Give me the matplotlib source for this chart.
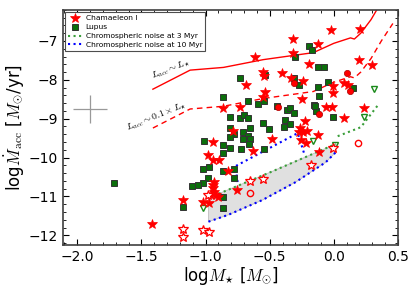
import numpy as np
import matplotlib
matplotlib.use("Agg")
import matplotlib.pyplot as plt
from matplotlib.ticker import MultipleLocator

plt.rcParams['mathtext.fontset'] = 'cm'
plt.rcParams['font.family'] = ['DejaVu Sans']

# ---- Data (log M*, log Macc) ----
cha_star_x = [-0.023, 0.203, -0.320, -0.125, -0.320, -0.617, 0.195, -0.195, 0.297, -0.555,
              -0.406, -0.547, -0.336, -0.688, -0.242, 0.078, 0.109, -0.008, -0.539, -0.555,
              -0.008, -0.250, -0.867, -0.734, -0.062, -0.016, 0.234, 0.078, -0.227, -0.266,
              -0.242, -0.211, -0.273, -0.125, -0.258, -0.219, -0.484, -0.938, -0.789, -0.633,
              -0.117, -0.977, -0.938, -0.898, -0.828, -0.930, -0.938, -0.938, -0.930, -0.922,
              -0.906, -0.961, -0.758, -1.016, -0.969, -1.172, -1.414]
cha_star_y = [-6.71, -6.68, -6.96, -7.09, -7.32, -7.42, -7.50, -7.60, -7.63, -7.81,
              -7.83, -7.91, -7.94, -8.12, -8.04, -8.09, -8.14, -8.17, -8.32, -8.45,
              -8.35, -8.50, -8.73, -8.71, -8.71, -8.71, -8.73, -8.99, -9.06, -9.24,
              -9.35, -9.32, -9.35, -9.42, -9.55, -9.63, -9.53, -9.60, -9.32, -9.83,
              -9.86, -9.94, -10.06, -10.06, -10.35, -10.63, -10.71, -10.78, -10.88, -10.96,
              -11.01, -10.96, -10.83, -11.14, -11.17, -11.09, -11.71]

cha_openstar_x = [-0.656, -0.555, -0.180, -0.008, -0.977, -1.172, -1.172, -1.016, -0.969]
cha_openstar_y = [-10.60, -10.55, -10.19, -9.76, -10.96, -11.83, -12.04, -11.86, -11.91]

cha_circ_x = [0.102, -0.312, 0.125, -0.438, -0.117]
cha_circ_y = [-7.83, -8.09, -8.29, -8.71, -8.88]

cha_opencirc_x = [-0.656, 0.188]
cha_opencirc_y = [-10.91, -9.62]

lup_x = [-0.195, -0.172, -0.305, -0.125, -0.078, -0.734, -0.539, -0.312, -0.273, -0.047,
         0.148, -0.125, -0.867, -0.672, -0.547, -0.594, -0.117, -0.156, -0.141, -0.367,
         -0.344, -0.812, -0.734, -0.703, -0.672, -0.008, -0.383, -0.344, -0.391, -0.555,
         -0.812, -0.656, -0.508, -0.445, -0.312, -0.148, -0.781, -0.812, -0.711, -0.672,
         -0.656, -0.711, -0.664, -1.008, -0.867, -0.812, -0.727, -0.547, -0.867, -1.016,
         -0.969, -0.867, -0.781, -0.781, -0.977, -1.016, -1.062, -1.109, -0.867, -0.867,
         -1.172, -1.711]
lup_y = [-7.14, -7.24, -7.42, -7.68, -7.68, -7.94, -7.88, -7.94, -8.14, -8.06,
         -8.22, -8.19, -8.45, -8.55, -8.55, -8.63, -8.42, -8.65, -8.81, -8.78,
         -8.73, -8.96, -8.99, -8.91, -8.99, -8.96, -9.04, -9.14, -9.22, -9.12,
         -9.24, -9.24, -9.27, -8.68, -8.86, -8.68, -9.40, -9.47, -9.35, -9.45,
         -9.53, -9.53, -9.65, -9.58, -9.68, -9.76, -9.78, -9.78, -9.88, -10.29,
         -10.24, -10.35, -10.29, -10.53, -10.53, -10.65, -10.71, -10.74, -11.01, -11.29,
         -11.27, -10.65]

lup_tri_x = [0.312, 0.234, -0.164, 0.008, -1.016]
lup_tri_y = [-8.24, -8.96, -9.58, -9.68, -11.29]

# Lacc ~ L* track
track_x = [-1.41, -1.12, -0.86, -0.55, -0.16, 0.0, 0.13, 0.16, 0.21, 0.29, 0.37, 0.46]
track_y = [-8.24, -7.75, -7.68, -7.48, -7.30, -7.06, -6.92, -6.95, -6.80, -6.45, -6.00, -5.55]
track01_y = [v - 1.0 for v in track_y]

# chromospheric noise 3 Myr (two segments)
ch3a_x = [-0.977, -0.49, 0.016]
ch3a_y = [-11.04, -10.37, -9.65]
ch3b_x = [0.03, 0.21, 0.344]
ch3b_y = [-9.45, -9.22, -8.65]

# chromospheric noise 10 Myr (two segments)
ch10a_x = [-0.75, -0.766, -0.281, -0.227]
ch10a_y = [-10.63, -10.22, -9.37, -9.94]
ch10b_x = [-0.977, -0.82, -0.555, -0.297, -0.063, 0.016]
ch10b_y = [-11.65, -11.47, -11.09, -10.63, -10.12, -9.86]

# typical error bar
err_x, err_y, err_dx, err_dy = -1.90, -8.76, 0.13, 0.36

# ---- Figure ----
fig = plt.figure(figsize=(4.15, 2.91), dpi=100)
ax = fig.add_axes([0.152, 0.158, 0.807, 0.808])

poly_x = ch3a_x + ch10b_x[::-1]
poly_y = ch3a_y + ch10b_y[::-1]
ax.fill(poly_x, poly_y, facecolor='0.88', edgecolor='0.75', lw=0.6, zorder=1)

ax.plot(track_x, track_y, color='red', lw=1.0, zorder=2)
ax.plot(track_x, track01_y, color='red', lw=1.0, ls=(0, (4, 3)), zorder=2)

ax.plot(ch3a_x, ch3a_y, color='#3a9e3a', ls=':', lw=1.5, zorder=2,
        label='Chromospheric noise at 3 Myr')
ax.plot(ch3b_x, ch3b_y, color='#3a9e3a', ls=':', lw=1.5, zorder=2)
ax.plot(ch10a_x, ch10a_y, color='blue', ls=':', lw=1.5, zorder=2,
        label='Chromospheric noise at 10 Myr')
ax.plot(ch10b_x, ch10b_y, color='blue', ls=':', lw=1.5, zorder=2)

ax.errorbar([err_x], [err_y], xerr=[err_dx], yerr=[err_dy], fmt='none',
            ecolor='0.6', elinewidth=0.9, capsize=0)

ax.plot(cha_star_x, cha_star_y, ls='none', marker='*', ms=7,
        mfc='red', mec='red', mew=0.5, zorder=4, label='Chamaeleon I')
ax.plot(cha_openstar_x, cha_openstar_y, ls='none', marker='*', ms=7,
        mfc='white', mec='red', mew=0.9, zorder=4)
ax.plot(cha_circ_x, cha_circ_y, ls='none', marker='o', ms=4.5,
        mfc='red', mec='#aa0000', mew=0.5, zorder=4)
ax.plot(cha_opencirc_x, cha_opencirc_y, ls='none', marker='o', ms=4.5,
        mfc='none', mec='red', mew=1.0, zorder=4)
ax.plot(lup_x, lup_y, ls='none', marker='s', ms=4.6,
        mfc='#0b6e0b', mec='#333333', mew=0.7, zorder=3, label='Lupus')
ax.plot(lup_tri_x, lup_tri_y, ls='none', marker='v', ms=5,
        mfc='none', mec='#1a8a1a', mew=1.0, zorder=3)

ax.text(-1.27, -7.74, r'$L_{acc}\sim L_{\star}$', rotation=21, fontsize=7,
        ha='center', va='center')
ax.text(-1.38, -8.95, r'$L_{acc}\sim 0.1\times L_{\star}$', rotation=22, fontsize=7,
        ha='center', va='center')

ax.set_xlim(-2.11, 0.5)
ax.set_ylim(-12.25, -6.2)
ax.xaxis.set_major_locator(MultipleLocator(0.5))
ax.xaxis.set_minor_locator(MultipleLocator(0.1))
ax.yaxis.set_major_locator(MultipleLocator(1))
ax.yaxis.set_minor_locator(MultipleLocator(0.2))
ax.tick_params(which='both', direction='in', top=True, right=True, labelsize=10)
ax.tick_params(which='major', length=4)
ax.tick_params(which='minor', length=2)
for s in ax.spines.values():
    s.set_linewidth(1.2)
    s.set_color('0.25')

ax.set_xlabel(r'log$M_{\star}$ [$M_{\odot}$]', fontsize=12, labelpad=1)
ax.set_ylabel(r'log$\dot{M}_{\rm acc}$ [$M_{\odot}$/yr]', fontsize=12, labelpad=2)

handles, labels = ax.get_legend_handles_labels()
order = ['Chamaeleon I', 'Lupus', 'Chromospheric noise at 3 Myr', 'Chromospheric noise at 10 Myr']
hmap = dict(zip(labels, handles))
leg = ax.legend([hmap[k] for k in order], order, loc='upper left', fontsize=5.4,
                fancybox=False, framealpha=1, edgecolor='0.3', numpoints=1,
                handlelength=1.8, handletextpad=0.5, borderpad=0.4,
                labelspacing=0.35, borderaxespad=0.3)
leg.get_frame().set_linewidth(0.8)

fig.savefig('out.png', dpi=100)
